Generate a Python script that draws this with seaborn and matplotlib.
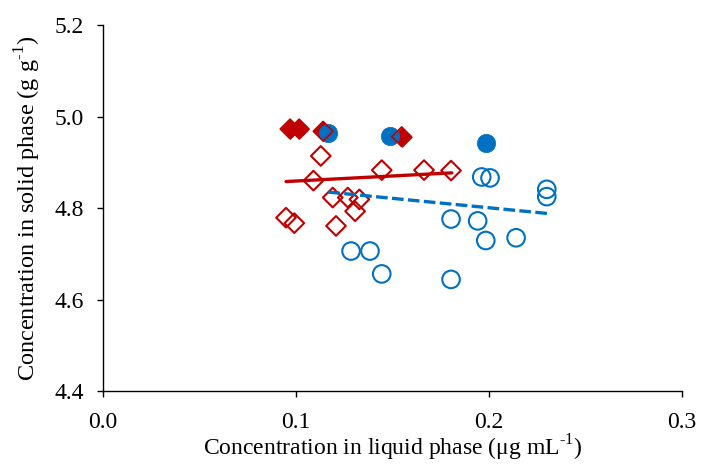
import matplotlib
matplotlib.use("Agg")
import matplotlib.pyplot as plt
import seaborn as sns
import numpy as np
import pandas as pd

# Filled red diamonds
red_fill_x = [0.0969, 0.1016, 0.1140, 0.1547]
red_fill_y = [4.973, 4.973, 4.968, 4.956]
# Filled blue circles
blue_fill_x = [0.1167, 0.1487, 0.1984]
blue_fill_y = [4.965, 4.957, 4.943]
# Open red diamonds
red_open_x = [0.1128, 0.1090, 0.1444, 0.1663, 0.1803, 0.1190, 0.1268, 0.1328, 0.1306, 0.0948, 0.0991, 0.1207]
red_open_y = [4.914, 4.860, 4.883, 4.883, 4.882, 4.823, 4.823, 4.819, 4.793, 4.779, 4.767, 4.761]
# Open blue circles
blue_open_x = [0.1962, 0.2005, 0.2299, 0.2299, 0.1803, 0.1941, 0.1983, 0.2140, 0.1285, 0.1383, 0.1444, 0.1803]
blue_open_y = [4.868, 4.866, 4.841, 4.825, 4.776, 4.772, 4.729, 4.735, 4.706, 4.706, 4.656, 4.644]
# Trend lines (endpoints)
red_trend_x = [0.0948, 0.1807]
red_trend_y = [4.858, 4.877]
blue_trend_x = [0.1167, 0.2307]
blue_trend_y = [4.835, 4.788]

xticks = [0.0, 0.1, 0.2, 0.3]
yticks = [4.4, 4.6, 4.8, 5.0, 5.2]

RED = "#C00000"
BLUE = "#0070C0"

sns.set_style("ticks")
plt.rcParams["font.family"] = ["Liberation Serif", "DejaVu Serif"]
plt.rcParams["mathtext.fontset"] = "custom"
plt.rcParams["mathtext.rm"] = "Liberation Serif"
plt.rcParams["text.color"] = "black"
plt.rcParams["axes.labelcolor"] = "black"
plt.rcParams["xtick.color"] = "black"
plt.rcParams["ytick.color"] = "black"

fig = plt.figure(figsize=(7.01, 4.66), dpi=100)
ax = fig.add_axes([0.147, 0.161, 0.826, 0.785])

sns.scatterplot(x=blue_open_x, y=blue_open_y, ax=ax, marker="o", s=160,
                facecolor="none", edgecolor=BLUE, linewidth=1.5, zorder=3)
sns.scatterplot(x=red_open_x, y=red_open_y, ax=ax, marker="D", s=100,
                facecolor="none", edgecolor=RED, linewidth=1.5, zorder=3)
sns.lineplot(x=red_trend_x, y=red_trend_y, ax=ax, color=RED, linewidth=2.4, zorder=4)
sns.lineplot(x=blue_trend_x, y=blue_trend_y, ax=ax, color=BLUE, linewidth=2.4,
             linestyle=(0, (3.5, 1.3)), zorder=4)
sns.scatterplot(x=red_fill_x, y=red_fill_y, ax=ax, marker="D", s=100,
                color=RED, edgecolor=RED, linewidth=0.5, zorder=5)
sns.scatterplot(x=blue_fill_x, y=blue_fill_y, ax=ax, marker="o", s=175,
                color=BLUE, edgecolor=BLUE, linewidth=0.5, zorder=6)
sns.scatterplot(x=red_fill_x, y=red_fill_y, ax=ax, marker="D", s=100,
                facecolor="none", edgecolor=RED, linewidth=1.2, zorder=7)

ax.set_xlim(0, 0.3)
ax.set_ylim(4.4, 5.2)
ax.set_xticks(xticks)
ax.set_yticks(yticks)
ax.set_xticklabels([f"{v:.1f}" for v in xticks])
ax.set_yticklabels([f"{v:.1f}" for v in yticks])
ax.tick_params(axis="both", labelsize=17, direction="out", length=4, width=1, color="black",
               labelcolor="black")
ax.tick_params(axis="x", pad=11)
ax.tick_params(axis="y", pad=10)
for s in ["top", "right"]:
    ax.spines[s].set_visible(False)
for s in ["left", "bottom"]:
    ax.spines[s].set_color("black")
    ax.spines[s].set_linewidth(1)

ax.set_xlabel(r"Concentration in liquid phase (μg mL$^{\text{-1}}$)", fontsize=17, labelpad=0)
ax.set_ylabel(r"Concentration in solid phase (g g$^{\text{-1}}$)", fontsize=17.5, labelpad=8)

fig.savefig("out.png", dpi=100)
